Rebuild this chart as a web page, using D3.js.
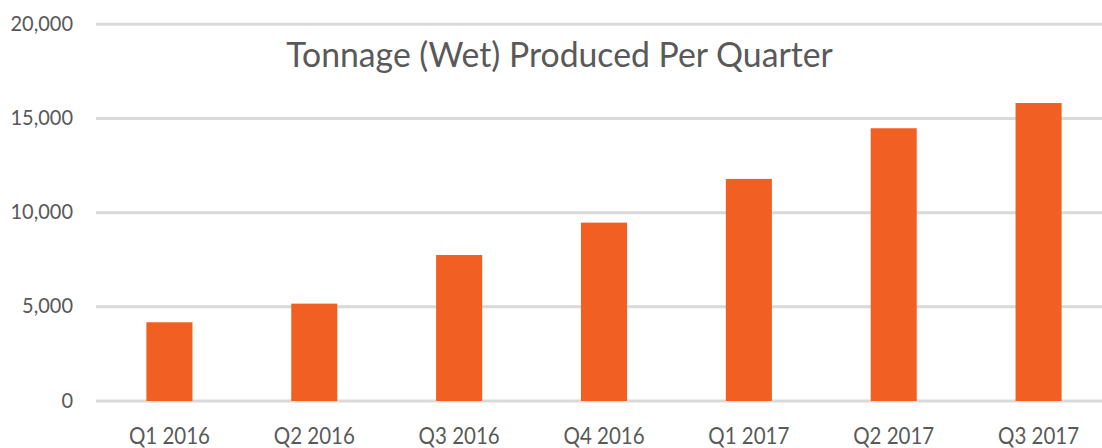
<!DOCTYPE html>
<html>
<head>
<meta charset="utf-8">
<script src="https://cdn.jsdelivr.net/npm/d3@7"></script>
<style>
  html, body { margin: 0; padding: 0; background: #fff; }
  #chart { width: 1102px; height: 448px; overflow: hidden; }
  text { font-family: Lato, "Noto Sans", sans-serif; fill: #595959; }
</style>
</head>
<body>
<div id="chart"></div>
<script>
'use strict';

const CATEGORIES = ['Q1 2016', 'Q2 2016', 'Q3 2016', 'Q4 2016', 'Q1 2017', 'Q2 2017', 'Q3 2017'];
const TONNAGE = [4180, 5170, 7750, 9470, 11790, 14480, 15820];
const Y_TICKS = [0, 5000, 10000, 15000, 20000];
const TITLE = 'Tonnage (Wet) Produced Per Quarter';

const W = 1102, H = 448;
const X0 = 97, X1 = 1111, Y0 = 401, Y1 = 24.3;
const BAR = '#f15f22';

const svg = d3.select('#chart').append('svg')
  .attr('width', W).attr('height', H);

const x = d3.scaleBand()
  .domain(CATEGORIES)
  .range([X0, X1])
  .paddingInner(0.682)
  .paddingOuter(0.341);

const y = d3.scaleLinear()
  .domain([0, 20000])
  .range([Y0, Y1]);

// gridlines
svg.append('g')
  .selectAll('line')
  .data(Y_TICKS)
  .join('line')
  .attr('x1', X0 - 1).attr('x2', W)
  .attr('y1', d => y(d)).attr('y2', d => y(d))
  .attr('stroke', '#d9d9d9')
  .attr('stroke-width', 3);

// y labels (slightly stretched vertically, the source font is taller)
const fmt = d3.format(',');
svg.append('g')
  .selectAll('text')
  .data(Y_TICKS)
  .join('text')
  .attr('transform', d => `translate(73,${y(d) + 6.5}) scale(1,1.1)`)
  .attr('text-anchor', 'end')
  .attr('font-size', 20)
  .text(d => fmt(d));

// bars
svg.append('g')
  .selectAll('rect')
  .data(CATEGORIES)
  .join('rect')
  .attr('x', d => x(d))
  .attr('width', x.bandwidth())
  .attr('y', (d, i) => y(TONNAGE[i]))
  .attr('height', (d, i) => Y0 - y(TONNAGE[i]))
  .attr('fill', BAR);

// x labels
svg.append('g')
  .selectAll('text')
  .data(CATEGORIES)
  .join('text')
  .attr('transform', d => `translate(${x(d) + x.bandwidth() / 2},443.5) scale(1,1.1)`)
  .attr('text-anchor', 'middle')
  .attr('font-size', 20.5)
  .text(d => d);

// title: fit width 547px, then stretch to cap height ~24.5px
const title = svg.append('text')
  .attr('text-anchor', 'middle')
  .attr('font-size', 30)
  .text(TITLE);

const tw = title.node().getComputedTextLength();
const fs = 30 * 547 / tw;
const sy = 24.5 / (0.72 * fs);
title.attr('font-size', fs)
  .attr('transform', `translate(559.5,67.3) scale(1,${sy})`);
</script>
</body>
</html>
